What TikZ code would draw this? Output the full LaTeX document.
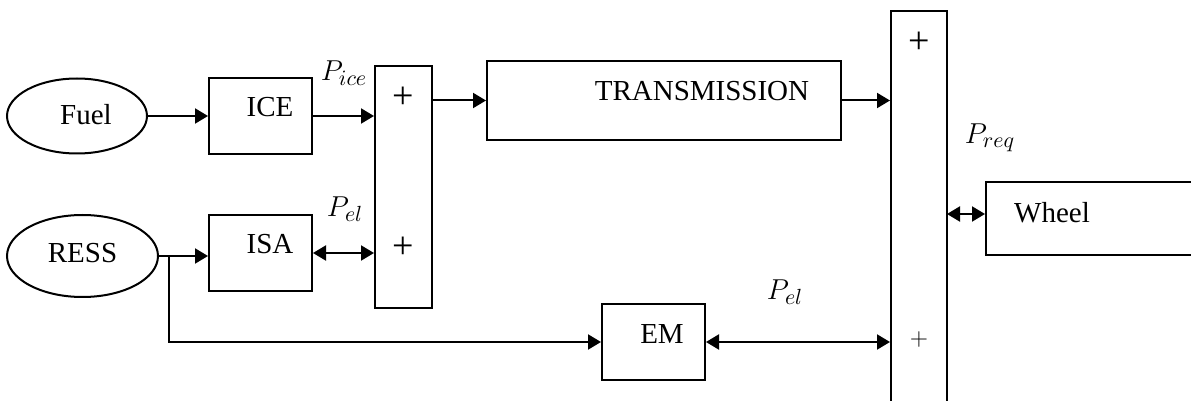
\documentclass[tikz,border=0pt]{standalone}
\usepackage{fontspec}
\setmainfont{Liberation Serif}
\usepackage{tikz}
\usetikzlibrary{shapes.geometric, arrows.meta}

\begin{document}
\begin{tikzpicture}[x=0.5pt, y=-0.5pt, line width=1pt,
    font=\fontsize{14.5}{17}\selectfont,
    blk/.style={draw, rectangle, inner sep=0pt},
    src/.style={draw, ellipse, inner sep=0pt},
    arr/.style={-{Triangle[length=6.5pt, width=7.5pt]}},
    biarr/.style={{Triangle[length=6.5pt, width=7.5pt]}-{Triangle[length=6.5pt, width=7.5pt]}},
    pw/.style={font=\fontsize{15.5}{18}\selectfont},
    sgn/.style={font=\fontsize{19}{21}\selectfont}]
            \useasboundingbox (0,0) rectangle (1191,401);

            \node[src, minimum width=70pt, minimum height=37.5pt, label={[xshift=4.5pt, yshift=0.5pt]center:Fuel}] (fuel) at (77,116) {};
            \node[src, minimum width=75.5pt, minimum height=41pt, label={[yshift=1.5pt]center:RESS}] (ress) at (82.5,256) {};

            \node[blk, minimum width=51.5pt, minimum height=38pt, label={[xshift=4.75pt, yshift=4.5pt]center:ICE}] (ice) at (260.5,116) {};
            \node[blk, minimum width=51.5pt, minimum height=38pt, label={[xshift=4.75pt, yshift=4.5pt]center:ISA}] (isa) at (260.5,253) {};
            \node[blk, minimum width=28.5pt, minimum height=121pt] (sum1) at (403.5,187) {};
            \node[sgn] (p1) at (403,98) {+};
            \node[sgn] (p2) at (403,248) {+};

            \node[blk, minimum width=177pt, minimum height=39.5pt, label={[xshift=19pt, yshift=4.75pt]center:TRANSMISSION}] (trans) at (664,100.5) {};
            \node[blk, minimum width=51.5pt, minimum height=38pt, label={[xshift=4.25pt, yshift=4pt]center:EM}] (em) at (653.5,342) {};

            \node[blk, minimum width=28pt, minimum height=197pt] (big) at (919,208) {};
            \node[sgn] (p3) at (919,43) {+};
            \node[font=\fontsize{13}{15}\selectfont] (p4) at (919,340) {$+$};

            \node[blk, minimum width=115pt, minimum height=36.5pt, label={[xshift=-24.5pt, yshift=2.75pt]center:Wheel}] (wheel) at (1101,218.5) {};

            \node[pw] (pice) at (344,73) {$P_{ice}$};
            \node[pw] (pel1) at (345,209) {$P_{el}$};
            \node[pw] (preq) at (990,138) {$P_{req}$};
            \node[pw] (pel2) at (785,292) {$P_{el}$};

            \coordinate (br) at (169,256);
            \coordinate (wj) at (947,214);

            \draw[arr] (fuel.east) -- (ice.west);
            \draw[arr] (ice.east) -- (ice.east -| sum1.west);
            \draw[arr] (trans.west -| sum1.east) -- (trans.west);
            \draw[arr] (trans.east) -- (trans.east -| big.west);

            \draw[arr] (ress.east) -- (ress.east -| isa.west);
            \draw[biarr] (isa.east) -- (isa.east -| sum1.west);
            \draw[arr] (br) |- (em.west);
            \draw[biarr] (em.east) -- (em.east -| big.west);

            \draw[biarr] (wj) -- (wj -| wheel.west);
        \end{tikzpicture}
\end{document}
